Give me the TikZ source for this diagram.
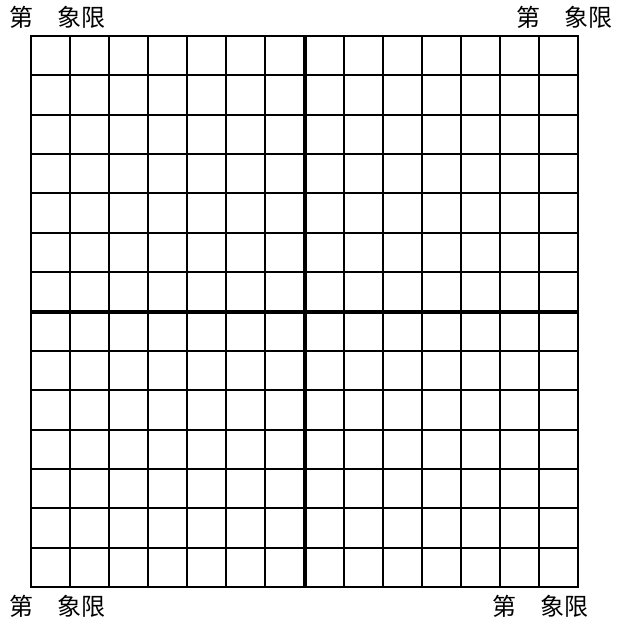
\documentclass[tikz,border=0pt]{standalone}
\usepackage{fontspec}
\setmainfont{Noto Sans CJK SC}

\begin{document}
\begin{tikzpicture}[x=1pt, y=-1pt,
  gridline/.style={line width=2pt, color=black, line cap=rect},
  axisline/.style={line width=4pt, color=black},
  quadlabel/.style={font=\fontsize{24}{24}\selectfont, inner sep=0pt}]
\useasboundingbox (0,0) rectangle (629,626);
% grid 14 x 14
\foreach \i in {0,...,14}{
  \draw[gridline] (31+\i*39.07,36) -- (31+\i*39.07,587);
  \draw[gridline] (31,36+\i*39.36) -- (578,36+\i*39.36);
}
% axes
\draw[axisline] (304.5,36) -- (304.5,587);
\draw[axisline] (31,311.5) -- (578,311.5);
% quadrant labels
\node[quadlabel, anchor=west] (q2) at (9,17) {第　象限};
\node[quadlabel, anchor=east] (q1) at (613,17) {第　象限};
\node[quadlabel, anchor=west] (q3) at (9,606) {第　象限};
\node[quadlabel, anchor=east] (q4) at (589,606) {第　象限};
\end{tikzpicture}
\end{document}
